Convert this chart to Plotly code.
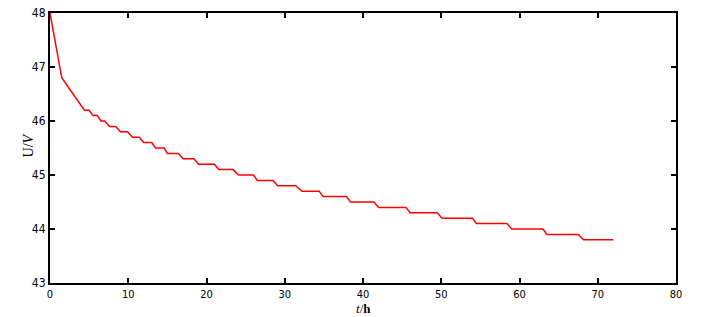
import plotly.graph_objects as go

# Voltage levels (V) and the time span (h) each level is held
levels = [46.2, 46.1, 46.0, 45.9, 45.8, 45.7, 45.6, 45.5, 45.4, 45.3, 45.2, 45.1,
          45.0, 44.9, 44.8, 44.7, 44.6, 44.5, 44.4, 44.3, 44.2, 44.1, 44.0, 43.9, 43.8]
level_start = [4.4, 5.5, 6.5, 7.6, 9.0, 10.55, 12.0, 13.5, 15.0, 17.0, 19.0, 21.6,
               24.1, 26.5, 29.1, 32.2, 34.9, 38.4, 42.0, 46.0, 50.1, 54.5, 59.0, 63.5, 68.2]
level_end = [5.0, 6.05, 7.0, 8.4, 9.9, 11.4, 13.0, 14.6, 16.4, 18.4, 21.0, 23.4,
             26.0, 28.5, 31.4, 34.4, 37.9, 41.4, 45.5, 49.5, 54.0, 58.4, 63.0, 67.5, 72.0]

# initial fast decay
t_init = [0.0, 1.5]
u_init = [48.0, 46.8]

t = list(t_init)
u = list(u_init)
for lv, s, e in zip(levels, level_start, level_end):
    t += [s, e]
    u += [lv, lv]

x_ticks = [0, 10, 20, 30, 40, 50, 60, 70, 80]
y_ticks = [43, 44, 45, 46, 47, 48]

tick_font = dict(family="Liberation Sans Narrow, Arial Narrow, DejaVu Sans Condensed, sans-serif",
                 size=12, color="black")
title_family = "Liberation Serif, Times New Roman, serif"

fig = go.Figure()
fig.add_trace(go.Scatter(x=t, y=u, mode="lines",
                         line=dict(color="#ff0000", width=1.5),
                         showlegend=False, hoverinfo="skip"))

axis_common = dict(showgrid=False, zeroline=False, showline=True, linecolor="black",
                   linewidth=2, mirror="ticks", ticks="inside", ticklen=5,
                   tickwidth=1.5, tickcolor="black",
                   automargin=False)

fig.update_xaxes(range=[0, 80], tickvals=x_ticks, ticktext=[str(v) for v in x_ticks],
                 ticklabelstandoff=0, tickfont=dict(tick_font, size=11), **axis_common)
fig.update_yaxes(range=[43, 48], tickvals=y_ticks, ticktext=[str(v) for v in y_ticks],
                 tickfont=tick_font, **axis_common)

fig.add_annotation(text="<i>t</i>/<b>h</b>", xref="paper", yref="paper",
                   x=0.5, y=-0.096, xanchor="center", yanchor="middle", showarrow=False,
                   font=dict(family=title_family, size=13, color="black"))
fig.add_annotation(text="U/<i>V</i>", xref="paper", yref="paper", textangle=-90,
                   x=-0.035, y=0.51, xanchor="center", yanchor="middle", showarrow=False,
                   font=dict(family=title_family, size=14, color="black"))

fig.update_layout(width=701, height=317,
                  margin=dict(l=50, r=25, t=13, b=34),
                  paper_bgcolor="white", plot_bgcolor="white")

fig.write_html("out.html")
